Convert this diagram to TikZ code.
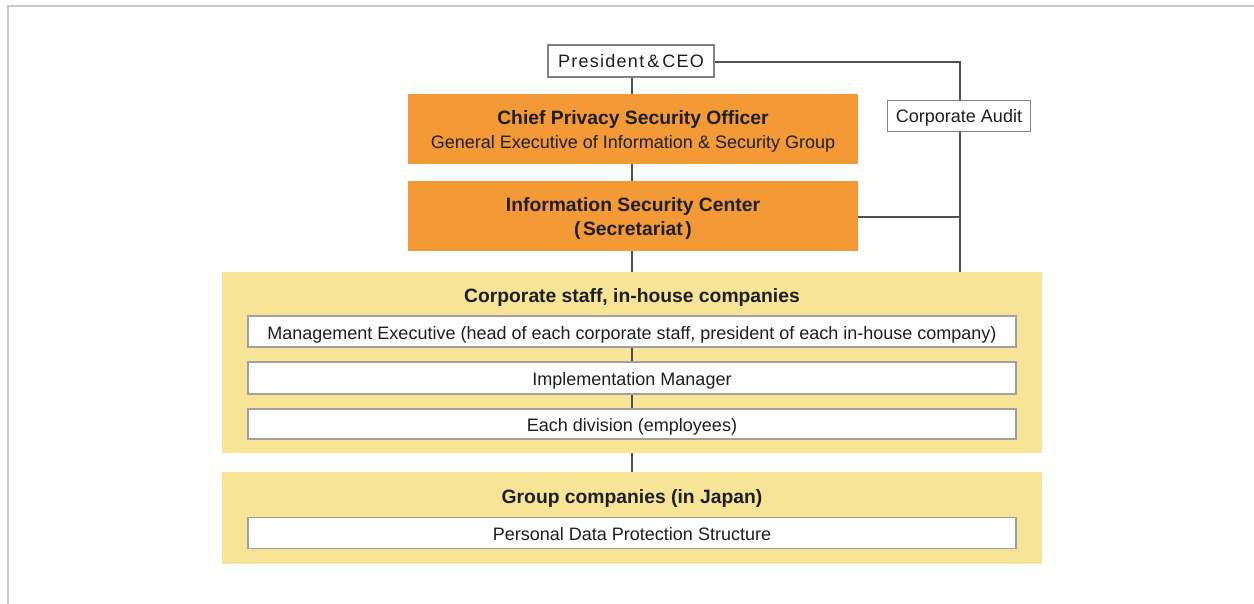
\documentclass[tikz,border=0pt]{standalone}
\usepackage{fontspec}
\setmainfont{Liberation Sans}
\newfontfamily\spacedfont[LetterSpace=7]{Liberation Sans}
\definecolor{orangec}{RGB}{243,154,54}
\definecolor{yellowc}{RGB}{248,228,150}
\definecolor{linec}{RGB}{80,80,80}
\definecolor{boxgray}{RGB}{130,130,130}
\definecolor{wgray}{RGB}{160,160,160}
\definecolor{framec}{RGB}{200,200,200}
\definecolor{textc}{RGB}{30,30,30}
\begin{document}
\begin{tikzpicture}[x=1pt,y=-1pt,
  conn/.style={draw=linec, line width=1.4pt},
  regtext/.style={font=\fontsize{18}{22}\selectfont, text=textc},
  topbox/.style={regtext, draw=boxgray, line width=1.2pt, fill=white, inner sep=0pt, text height=13.2pt, text depth=0pt},
  orangebox/.style={fill=orangec, minimum width=450pt, minimum height=70pt, inner sep=0pt},
  otext/.style={align=center, text=textc, inner sep=0pt},
  yellowbox/.style={fill=yellowc, minimum width=820pt, inner sep=0pt},
  whitebox/.style={regtext, fill=white, draw=wgray, line width=1.4pt, minimum width=768pt, inner sep=0pt, text height=15pt, text depth=0pt},
  titletext/.style={font=\fontsize{19.3}{24}\selectfont\bfseries, text=textc, anchor=base, inner sep=0pt}
]
\useasboundingbox (0,0) rectangle (1254,604);
\draw[framec, line width=2pt] (1254,6) -- (8,6) -- (8,604);

% yellow backgrounds
\node[yellowbox, minimum height=181pt] (y1) at (632,362.5) {};
\node[yellowbox, minimum height=92pt] (y2) at (632,518) {};

% top nodes
\node[topbox, minimum width=166pt, minimum height=32pt, font=\fontsize{18}{22}\spacedfont] (ceo) at (631,61) {President\,\&\,CEO};
\node[topbox, minimum width=143pt, minimum height=31pt] (audit) at (959,116) {Corporate Audit};

\node[orangebox] (cpso) at (633,129) {};
\node[otext, font=\fontsize{19.3}{25}\selectfont] (cpsotext) at (633,131) {\textbf{Chief Privacy Security Officer}\\[-1pt]\fontsize{18}{25}\selectfont General Executive of Information \& Security Group};
\node[orangebox] (isc) at (633,216) {};
\node[otext, font=\fontsize{19.3}{25}\selectfont\bfseries] (isctext) at (633,219) {Information Security Center\\[-1pt](\kern2.5pt Secretariat\kern2.5pt)};

% titles
\node[titletext] (t1) at (632,302.5) {Corporate staff, in-house companies};
\node[titletext] (t2) at (632,503) {Group companies (in Japan)};

% white boxes
\node[whitebox, minimum height=31pt] (w1) at (632,331.5) {Management Executive (head of each corporate staff, president of each in-house company)};
\node[whitebox, minimum height=32pt] (w2) at (632,378) {Implementation Manager};
\node[whitebox, minimum height=30pt] (w3) at (632,424) {Each division (employees)};
\node[whitebox, minimum height=31pt] (w4) at (632,533) {Personal Data Protection Structure};

% connectors
\coordinate (auditx) at (960,0);
\draw[conn] (ceo.south -| 632,0) -- (cpso.north -| 632,0);
\draw[conn] (cpso.south -| 632,0) -- (isc.north -| 632,0);
\draw[conn] (isc.south -| 632,0) -- (y1.north -| 632,0);
\draw[conn] (ceo.east |- 0,62) -| (audit.north -| auditx);
\draw[conn] (audit.south -| auditx) -- (y1.north -| auditx);
\draw[conn] (isc.east |- 0,217) -- (auditx |- 0,217);
\draw[conn] (w1.south) -- (w2.north);
\draw[conn] (w2.south) -- (w3.north);
\draw[conn] (y1.south) -- (y2.north);
\end{tikzpicture}
\end{document}
